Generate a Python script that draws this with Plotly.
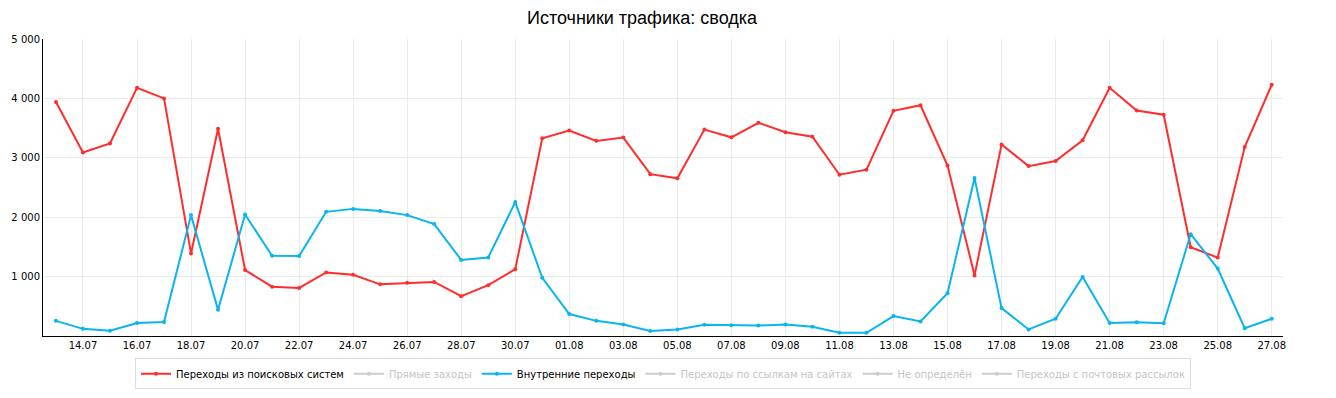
import plotly.graph_objects as go
import pandas as pd

dates = pd.date_range("2013-07-13", "2013-08-27", freq="D").strftime("%Y-%m-%d").tolist()

search = [3940, 3090, 3240, 4180, 4000, 1390, 3490, 1110, 830, 810, 1070, 1030, 870, 895, 910,
          670, 855, 1125, 3330, 3460, 3285, 3340, 2725, 2655, 3475, 3345, 3590, 3430, 3355, 2715, 2800,
          3790, 3885, 2870, 1020, 3225, 2860, 2945, 3295, 4180, 3795, 3725, 1495, 1320, 3180, 4230]
internal = [255, 120, 90, 220, 235, 2035, 440, 2045, 1350, 1345, 2090, 2140, 2105, 2035, 1885,
            1280, 1320, 2255, 980, 370, 255, 195, 85, 110, 190, 180, 175, 195, 155, 55, 55,
            335, 245, 720, 2660, 470, 110, 290, 995, 220, 230, 215, 1715, 1135, 130, 290]
hidden = [None] * len(dates)  # series switched off in the legend

series_names = ["Переходы из поисковых систем", "Прямые заходы", "Внутренние переходы",
                "Переходы по ссылкам на сайтах", "Не определён", "Переходы с почтовых рассылок"]
y_ticks = [1000, 2000, 3000, 4000, 5000]
y_tick_text = ["1 000", "2 000", "3 000", "4 000", "5 000"]

fig = go.Figure()
data_map = {series_names[0]: (search, "#ff2d2d"), series_names[2]: (internal, "#0ab4ef")}
for name in series_names:
    if name in data_map:
        vals, col = data_map[name]
        fig.add_trace(go.Scatter(x=dates, y=vals, name=name, mode="lines+markers",
                                 line=dict(color=col, width=2), marker=dict(color=col, size=4)))
    else:
        fig.add_trace(go.Scatter(x=dates, y=hidden, name=f"<span style='color:#c4c4c4'>{name}</span>",
                                 mode="lines+markers",
                                 line=dict(color="#cccccc", width=2), marker=dict(color="#cccccc", size=4)))

fig.update_layout(
    width=1336, height=398,
    margin=dict(l=43, r=53, t=39, b=62, autoexpand=False),
    paper_bgcolor="white", plot_bgcolor="white",
    title=dict(text="Источники трафика: сводка", x=642 / 1336, xref="container", xanchor="center",
               y=1 - 18 / 398, yref="container", yanchor="middle",
               font=dict(family="Liberation Sans, Arial", size=18, color="black")),
    font=dict(family="DejaVu Sans", size=10, color="black"),
    showlegend=True,
    legend=dict(orientation="h", x=0.5, xanchor="center", y=-0.075, yanchor="top",
                bordercolor="#dddddd", borderwidth=1, font=dict(size=10, color="black"),
                itemwidth=30, tracegroupgap=0),
    hovermode=False,
)
fig.update_xaxes(type="date", range=["2013-07-12 12:30", "2013-08-27 10:00"],
                 tick0="2013-07-14", dtick=2 * 86400000, tickformat="%d.%m",
                 showgrid=True, gridcolor="#ebebeb", gridwidth=1, automargin=False,
                 showline=True, linecolor="black", linewidth=1, ticks="", ticklen=0,
                 zeroline=False, tickfont=dict(size=10, color="black"))
fig.update_yaxes(range=[0, 5000], tickvals=y_ticks, ticktext=y_tick_text,
                 showgrid=True, gridcolor="#ebebeb", gridwidth=1, automargin=False,
                 showline=True, linecolor="black", linewidth=1, ticks="",
                 zeroline=False, tickfont=dict(size=10, color="black"))

fig.write_html("out.html", config={"displayModeBar": False},
               post_script="document.body.style.margin='0';document.body.style.overflow='hidden';")
